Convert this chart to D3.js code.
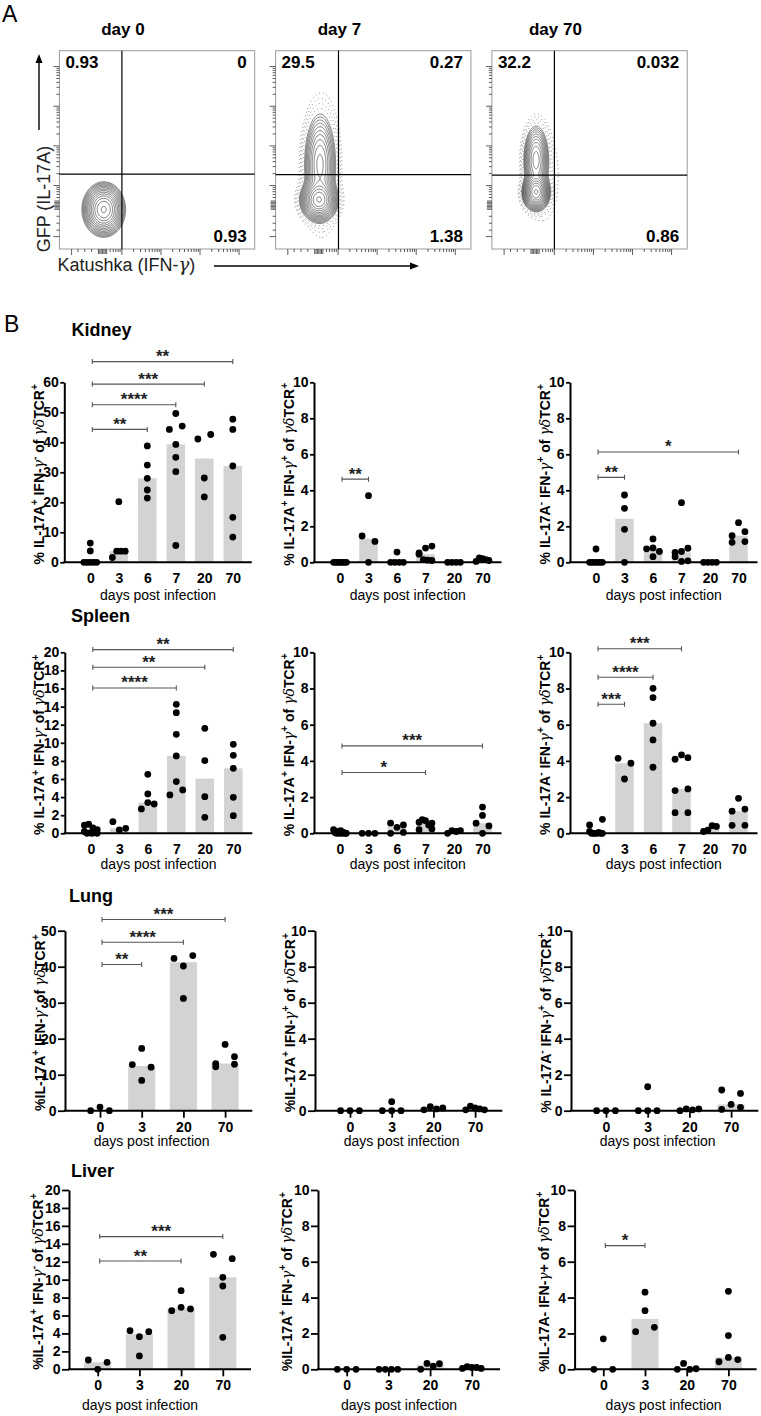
<!DOCTYPE html>
<html><head><meta charset="utf-8">
<script src="https://cdn.jsdelivr.net/npm/d3@7"></script>
<style>body{margin:0;background:#fff}svg{display:block}text{white-space:pre}</style>
</head><body><svg id="c" width="761" height="1416"></svg>
<script>
const FONT = "'Liberation Sans', Arial, Helvetica, sans-serif";
const GREEK = "'DejaVu Serif', 'Liberation Serif', serif";

// ---------------- Panel A data ----------------
const flowTitles = ["day 0", "day 7", "day 70"];
const quadTopLeft = ["0.93", "29.5", "32.2"];
const quadTopRight = ["0", "0.27", "0.032"];
const quadBottomRight = ["0.93", "1.38", "0.86"];
const gateKatushka = [0.32, 0.322, 0.32];
const gateGFP = [0.378, 0.375, 0.373];
// cell populations in axis units: [x, y, sdX, sdY, weight]
const popsDay0 = [[0.227, 0.199, 0.040, 0.050, 1]];
const popsDay7 = [[0.222, 0.247, 0.036, 0.040, 1], [0.227, 0.424, 0.033, 0.106, 0.35], [0.245, 0.42, 0.05, 0.2, 0.008]];
const popsDay70 = [[0.226, 0.287, 0.026, 0.035, 1], [0.226, 0.449, 0.026, 0.071, 0.35], [0.26, 0.37, 0.05, 0.14, 0.008]];
const flowMajorTicks = [0.0625, 0.32, 0.52, 0.72, 0.92];
const flowZeroTicks = [0.2, 0.207, 0.214, 0.221, 0.228, 0.235, 0.242];
const flowLinearTicks = [0.095, 0.13, 0.165];

// ---------------- Panel B data ----------------
const organs = ["Kidney", "Spleen", "Lung", "Liver"];
const daysSix = ["0", "3", "6", "7", "20", "70"];
const daysFour = ["0", "3", "20", "70"];

const kidneyA = [[0, 0, 6.4, 3.8, 0, 0, 0], [1.6, 3.7, 3.7, 3.7, 20.2], [38.8, 32.4, 28, 24.1, 21.4],
  [49.6, 44.3, 45.4, 39.3, 35, 30.2, 5.6], [41.1, 42.6, 28.1, 21.8], [47.7, 44.3, 32.1, 15, 8.4]];
const kidneyB = [[0, 0, 0, 0, 0, 0, 0], [3.7, 1.46, 1.16, 0], [0, 0, 0.57, 0, 0],
  [0.52, 0.79, 0.9, 0.45, 0.15, 0.12, 0.1], [0, 0, 0, 0], [0.05, 0.25, 0.2, 0.15, 0.1]];
const kidneyC = [[0, 0, 0, 0.74, 0, 0, 0], [3.74, 3.0, 1.83, 0], [1.3, 0.75, 0.8, 0.6, 0.31],
  [3.31, 0.55, 0.6, 0.78, 0.31, 0.05, 0.08], [0, 0, 0, 0], [2.2, 1.48, 1.7, 1.11, 1.15]];

const spleenA = [[0.9, 0.2, 1.0, 0, 0.6, 0.05, 0.4, 0, 0.1, 0], [1.29, 0.55, 0.37], [6.52, 4.35, 2.69, 3.39, 3.24],
  [14.25, 13.33, 10.94, 8.55, 5.71, 4.24, 4.79], [11.6, 8.03, 4.05, 1.77], [9.83, 8.62, 7.18, 3.98, 1.95]];
const spleenB = [[0.2, 0.05, 0, 0.1, 0, 0.15, 0, 0.05, 0, 0], [0, 0, 0], [0, 0.56, 0.33, 0.46, 0.05],
  [0.61, 0.76, 0.7, 0.46, 0.56, 0.2, 0.24], [0, 0.15, 0.1, 0.15], [0.56, 1.45, 0, 0.99, 0.41]];
const spleenC = [[0.46, 0.77, 0.1, 0, 0, 0, 0, 0.05, 0, 0], [4.14, 3.87, 3.0], [8.01, 7.5, 6.08, 5.16, 3.65],
  [4.09, 4.33, 4.18, 2.36, 2.45, 1.14, 1.14], [0.1, 0.18, 0.42, 0.38], [1.93, 1.22, 1.34, 0.44, 0.44]];

const lungA = [[0, 1.0, 0], [12.8, 17.3, 12.1, 8.4], [42.3, 43.1, 40.2, 31.2], [12.2, 18.4, 13.1, 15.0, 12.9]];
const lungB = [[0, 0, 0], [0, 0, 0, 0.5], [0.05, 0.22, 0.1, 0.15], [0.05, 0.25, 0.15, 0.1, 0.05]];
const lungC = [[0, 0, 0], [0, 0, 0, 1.33], [0, 0.1, 0.05, 0.1], [0.07, 1.15, 0.35, 0.96, 0.19]];

const liverA = [[1.04, 0, 0.78], [4.31, 3.64, 4.2, 1.49], [8.77, 6.54, 6.91, 6.73], [12.83, 12.34, 10.26, 9.29, 3.57]];
const liverB = [[0, 0, 0], [0, 0, 0, 0], [0, 0.33, 0.18, 0.31], [0.05, 0.15, 0.1, 0.1, 0.05]];
const liverC = [[0, 1.7, 0], [4.3, 3.27, 2.1, 2.34], [0, 0.33, 0, 0.03], [4.35, 1.88, 0.42, 0.66, 0.54]];

// significance brackets: [from day, to day, height (axis units), label]
const kidneyABrackets = [["0", "6", 44.3, "**"], ["0", "7", 52.5, "****"], ["0", "20", 59.4, "***"], ["0", "70", 66.9, "**"]];
const kidneyBBrackets = [["0", "3", 4.62, "**"]];
const kidneyCBrackets = [["0", "3", 4.72, "**"], ["0", "70", 6.13, "*"]];
const spleenABrackets = [["0", "7", 16.06, "****"], ["0", "20", 18.34, "**"], ["0", "70", 20.3, "**"]];
const spleenBBrackets = [["0", "7", 3.36, "*"], ["0", "70", 4.83, "***"]];
const spleenCBrackets = [["0", "3", 7.13, "***"], ["0", "6", 8.62, "****"], ["0", "7", 10.2, "***"]];
const lungABrackets = [["0", "3", 40.6, "**"], ["0", "20", 46.8, "****"], ["0", "70", 53.1, "***"]];
const liverABrackets = [["0", "20", 12.08, "**"], ["0", "70", 14.8, "***"]];
const liverCBrackets = [["0", "3", 6.9, "*"]];

const ticksTo60 = [0, 10, 20, 30, 40, 50, 60];
const ticksTo50 = [0, 10, 20, 30, 40, 50];
const ticksTo20 = [0, 2, 4, 6, 8, 10, 12, 14, 16, 18, 20];
const ticksTo10 = [0, 2, 4, 6, 8, 10];

const labelsKS = ["% IL-17A^+ IFN-{γ}^- of {γδ}TCR^+", "% IL-17A^+ IFN-{γ}^+ of {γδ}TCR^+", "% IL-17A^- IFN-{γ}^+ of {γδ}TCR^+"];
const labelsLung = ["%IL-17A^+ IFN-{γ}^- of {γδ}TCR^+", "%IL-17A^+ IFN-{γ}^+ of {γδ}TCR^+", "% IL-17A^- IFN-{γ}^+ of {γδ}TCR^+"];
const labelsLiver = ["%IL-17A^+ IFN-{γ}^- of {γδ}TCR^+", "%IL-17A^+ IFN-{γ}^+ of {γδ}TCR^+", "%IL-17A- IFN-{γ}+ of {γδ}TCR^+"];
const xTitlesDefault = ["days post infection", "days post infection", "days post infection"];
const xTitlesSpleen = ["days post infection", "days post infeciton", "days post infection"];

// ---------------- drawing ----------------
const svg = d3.select("#c").attr("font-family", FONT);
svg.append("rect").attr("width", 761).attr("height", 1416).attr("fill", "#fff");

function rich(sel, str, size) {
  const re = /\^(.)|\{([^}]*)\}|([^^{]+)/g;
  let m, shift = 0;
  while ((m = re.exec(str)) !== null) {
    const ts = sel.append("tspan");
    if (m[1] !== undefined) {
      ts.attr("dy", -size * 0.4 - shift).attr("font-size", size * 0.72).text(m[1]);
      shift = -size * 0.4;
    } else {
      if (shift) { ts.attr("dy", -shift); shift = 0; }
      if (m[2] !== undefined) ts.attr("font-family", GREEK).attr("font-style", "italic").attr("font-weight", "normal").text(m[2]);
      else ts.text(m[3]);
    }
  }
}

svg.append("text").attr("x", 2).attr("y", 21.7).attr("font-size", 23).text("A");
svg.append("text").attr("x", 4).attr("y", 332).attr("font-size", 23).text("B");

// ---- Panel A: flow plots
const boxX = [59.4, 275.6, 491.9], boxY = 50.7, boxW = 195.3, boxH = 198.3;
const flowPops = [popsDay0, popsDay7, popsDay70];
const solidLevels = d3.range(14).map(k => 0.02 * Math.pow(0.95 / 0.02, k / 13));
const haloLevels = [[], [0.011, 0.0065, 0.0038, 0.0022], [0.011, 0.0065, 0.0038, 0.0022]];
const defs = svg.append("defs");

const minorFlow = [];
[0.12, 0.32, 0.52, 0.72].forEach(d => d3.range(2, 10).forEach(mm => {
  const v = d + 0.2 * Math.log10(mm);
  if (v > 0.245 && v < 0.99) minorFlow.push(v);
}));

flowTitles.forEach((t, k) => {
  const x = d3.scaleLinear([0, 1], [boxX[k], boxX[k] + boxW]);
  const y = d3.scaleLinear([0, 1], [boxY + boxH, boxY]);
  const g = svg.append("g");
  defs.append("clipPath").attr("id", "clip" + k).append("rect")
    .attr("x", boxX[k]).attr("y", boxY).attr("width", boxW).attr("height", boxH);
  const gw = Math.round(boxW), gh = Math.round(boxH);
  const vals = new Float64Array(gw * gh);
  let mx = 0;
  for (let j = 0; j < gh; j++) for (let i = 0; i < gw; i++) {
    const fx = (i + 0.5) / gw, fy = 1 - (j + 0.5) / gh;
    let s = 0;
    flowPops[k].forEach(([px, py, sx, sy, w]) => {
      s += w * Math.exp(-((fx - px) ** 2) / (2 * sx * sx) - ((fy - py) ** 2) / (2 * sy * sy));
    });
    vals[j * gw + i] = s; if (s > mx) mx = s;
  }
  for (let q = 0; q < vals.length; q++) vals[q] /= mx;
  const cg = g.append("g").attr("clip-path", `url(#clip${k})`)
    .append("g").attr("transform", `translate(${boxX[k]},${boxY}) scale(${boxW / gw},${boxH / gh})`);
  const path = d3.geoPath();
  if (haloLevels[k].length) {
    cg.selectAll("path.h").data(d3.contours().size([gw, gh]).thresholds(haloLevels[k])(vals)).join("path")
      .attr("class", "h").attr("d", path).attr("fill", "none").attr("stroke", "#666")
      .attr("stroke-width", 0.9).attr("stroke-dasharray", "0.8 3.2");
  }
  cg.selectAll("path.s").data(d3.contours().size([gw, gh]).thresholds(solidLevels)(vals)).join("path")
    .attr("class", "s").attr("d", path).attr("fill", "none").attr("stroke", "#1a1a1a").attr("stroke-width", 0.55);
  g.append("rect").attr("x", boxX[k]).attr("y", boxY).attr("width", boxW).attr("height", boxH)
    .attr("fill", "none").attr("stroke", "#9a9a9a").attr("stroke-width", 1);
  g.append("line").attr("x1", x(gateKatushka[k])).attr("x2", x(gateKatushka[k])).attr("y1", boxY).attr("y2", boxY + boxH)
    .attr("stroke", "#000").attr("stroke-width", 1.2);
  g.append("line").attr("x1", boxX[k]).attr("x2", boxX[k] + boxW).attr("y1", y(gateGFP[k])).attr("y2", y(gateGFP[k]))
    .attr("stroke", "#000").attr("stroke-width", 1.2);
  const tk = (v, len) => {
    g.append("line").attr("x1", boxX[k]).attr("x2", boxX[k] - len).attr("y1", y(v)).attr("y2", y(v)).attr("stroke", "#333").attr("stroke-width", 0.8);
    g.append("line").attr("y1", boxY + boxH).attr("y2", boxY + boxH + len).attr("x1", x(v)).attr("x2", x(v)).attr("stroke", "#333").attr("stroke-width", 0.8);
  };
  flowMajorTicks.forEach(v => tk(v, 6));
  flowZeroTicks.forEach(v => tk(v, 5));
  flowLinearTicks.forEach(v => tk(v, 3));
  minorFlow.forEach(v => tk(v, 3));
  g.append("text").attr("x", x(gateKatushka[k]) + 1).attr("y", 35).attr("text-anchor", "middle")
    .attr("font-size", 17).attr("font-weight", "bold").text(t);
  g.append("text").attr("x", boxX[k] + 6).attr("y", 68.3).attr("font-size", 17).attr("font-weight", "bold").text(quadTopLeft[k]);
  g.append("text").attr("x", boxX[k] + boxW - 8).attr("y", 68.3).attr("text-anchor", "end").attr("font-size", 17).attr("font-weight", "bold").text(quadTopRight[k]);
  g.append("text").attr("x", boxX[k] + boxW - 8).attr("y", 241.7).attr("text-anchor", "end").attr("font-size", 17).attr("font-weight", "bold").text(quadBottomRight[k]);
});
svg.append("text").attr("transform", "translate(50,199) rotate(-90)").attr("text-anchor", "middle")
  .attr("font-size", 18).attr("fill", "#222").text("GFP (IL-17A)");
const kat = svg.append("text").attr("x", 57.5).attr("y", 270.7).attr("font-size", 18).attr("fill", "#222");
kat.append("tspan").text("Katushka (IFN-");
kat.append("tspan").attr("font-family", GREEK).attr("font-style", "italic").text("γ");
kat.append("tspan").text(")");
svg.append("line").attr("x1", 39).attr("x2", 39).attr("y1", 130).attr("y2", 62).attr("stroke", "#000").attr("stroke-width", 1.4);
svg.append("path").attr("d", "M39,54 L35.5,63 L42.5,63 Z").attr("fill", "#000");
svg.append("line").attr("x1", 214).attr("x2", 411).attr("y1", 266).attr("y2", 266).attr("stroke", "#000").attr("stroke-width", 1.4);
svg.append("path").attr("d", "M419,266 L410,262.5 L410,269.5 Z").attr("fill", "#000");

// ---- Panel B
const rowsLayout = [
  { titleX: 71.6, titleY: 336, top: 382.3, base: 562.3, axX: [64.3, 314, 570], len: 187.5, off: 26, step: 28.5, xTick: 0, yTick: 4, labelGap: 20.5, titleDy: 37.5, xTitleShift: [0, 0, 0] },
  { titleX: 71, titleY: 621.7, top: 652.3, base: 833.3, axX: [64.8, 314, 570], len: 187.5, off: 26, step: 28.5, xTick: 0, yTick: 4, labelGap: 20.5, titleDy: 36, xTitleShift: [0, 0, 0] },
  { titleX: 69, titleY: 901.7, top: 930.7, base: 1110.7, axX: [65, 315, 571], len: 187.3, off: 35, step: 41.7, xTick: 7, yTick: 7, labelGap: 20, titleDy: 35.5, xTitleShift: [-7, -7, -7] },
  { titleX: 71, titleY: 1176.7, top: 1190, base: 1369.3, axX: [69, 318, 574.6], len: 182, off: 28.7, step: 41.7, xTick: 7, yTick: 7, labelGap: 26, titleDy: 40.7, xTitleShift: [-20, -10, -2] }
];
const rowCharts = [
  { days: daysSix, data: [kidneyA, kidneyB, kidneyC], brackets: [kidneyABrackets, kidneyBBrackets, kidneyCBrackets], ticks: [ticksTo60, ticksTo10, ticksTo10], labels: labelsKS, xTitles: xTitlesDefault },
  { days: daysSix, data: [spleenA, spleenB, spleenC], brackets: [spleenABrackets, spleenBBrackets, spleenCBrackets], ticks: [ticksTo20, ticksTo10, ticksTo10], labels: labelsKS, xTitles: xTitlesSpleen },
  { days: daysFour, data: [lungA, lungB, lungC], brackets: [lungABrackets, [], []], ticks: [ticksTo50, ticksTo10, ticksTo10], labels: labelsLung, xTitles: xTitlesDefault },
  { days: daysFour, data: [liverA, liverB, liverC], brackets: [liverABrackets, [], liverCBrackets], ticks: [ticksTo20, ticksTo10, ticksTo10], labels: labelsLiver, xTitles: xTitlesDefault }
];

function swarm(vals, y, cx, step) {
  const pts = vals.map((v, i) => ({ v, i, py: y(v) }));
  const sorted = pts.slice().sort((a, b) => a.py - b.py);
  const rows = []; let cur = null;
  sorted.forEach(p => {
    if (cur && p.py - cur.start < 7) cur.items.push(p);
    else { cur = { start: p.py, items: [p] }; rows.push(cur); }
  });
  const span = 0.45 * step;
  rows.forEach(r => {
    r.items.sort((a, b) => a.i - b.i);
    const n = r.items.length;
    r.items.forEach((p, k) => { p.px = cx + (n > 1 ? (k - (n - 1) / 2) * span / (n - 1) : 0); });
  });
  return pts;
}

organs.forEach((organ, r) => {
  const L = rowsLayout[r], C = rowCharts[r];
  svg.append("text").attr("x", L.titleX).attr("y", L.titleY).attr("font-size", 18).attr("font-weight", "bold").text(organ);
  C.data.forEach((series, c) => {
    const g = svg.append("g");
    const ax = L.axX[c];
    const tks = C.ticks[c];
    const y = d3.scaleLinear([0, tks[tks.length - 1]], [L.base, L.top]);
    const x = d3.scalePoint(C.days, [ax + L.off, ax + L.off + L.step * (C.days.length - 1)]);
    g.selectAll("rect.bar").data(series).join("rect").attr("class", "bar")
      .attr("x", (d, i) => x(C.days[i]) - 0.325 * L.step).attr("width", 0.65 * L.step)
      .attr("y", d => y(d3.median(d))).attr("height", d => L.base - y(d3.median(d)))
      .attr("fill", "#d3d3d3");
    const ya = g.append("g").attr("transform", `translate(${ax},0)`)
      .call(d3.axisLeft(y).tickValues(tks).tickSize(L.yTick).tickSizeOuter(0).tickPadding(1.5));
    ya.select(".domain").attr("stroke-width", 2);
    ya.selectAll(".tick line").attr("stroke-width", 1.8);
    ya.selectAll("text").attr("font-size", 14).attr("font-weight", "bold").attr("font-family", FONT).attr("fill", "#000");
    const xa = g.append("g").attr("transform", `translate(0,${L.base})`)
      .call(d3.axisBottom(x).tickSize(L.xTick).tickSizeOuter(0).tickPadding(L.xTick ? 4 : 11));
    xa.select(".domain").remove();
    xa.selectAll(".tick line").attr("stroke-width", 1.8);
    xa.selectAll("text").attr("font-size", 14).attr("font-weight", "bold").attr("font-family", FONT).attr("fill", "#000");
    g.append("line").attr("x1", ax - 1).attr("x2", ax + L.len).attr("y1", L.base).attr("y2", L.base)
      .attr("stroke", "#000").attr("stroke-width", 2);
    g.append("text").attr("x", ax + L.len / 2 + L.xTitleShift[c]).attr("y", L.base + L.titleDy)
      .attr("text-anchor", "middle").attr("font-size", 14).text(C.xTitles[c]);
    const yl = g.append("text").attr("transform", `translate(${ax - L.labelGap},${(L.base + L.top) / 2 + 2}) rotate(-90)`)
      .attr("text-anchor", "middle").attr("font-size", 14).attr("font-weight", "bold");
    rich(yl, C.labels[c], 14);
    C.brackets[c].forEach(([a, b, v, lab]) => {
      const x1 = x(a) + 2, x2 = x(b), yy = y(v);
      g.append("path").attr("d", `M${x1},${yy - 2.5}V${yy + 2.5}M${x1},${yy}H${x2}M${x2},${yy - 2.5}V${yy + 2.5}`)
        .attr("fill", "none").attr("stroke", "#555").attr("stroke-width", 1.1);
      g.append("text").attr("x", (x1 + x2) / 2).attr("y", yy + 0.5).attr("text-anchor", "middle")
        .attr("font-size", 17).attr("font-weight", "bold").attr("fill", "#222").text(lab);
    });
    series.forEach((vals, i) => {
      const pts = swarm(vals, y, x(C.days[i]), L.step);
      g.selectAll(null).data(pts).join("circle")
        .attr("cx", p => p.px).attr("cy", p => p.py).attr("r", 3.4).attr("fill", "#000");
    });
  });
});
</script></body></html>
